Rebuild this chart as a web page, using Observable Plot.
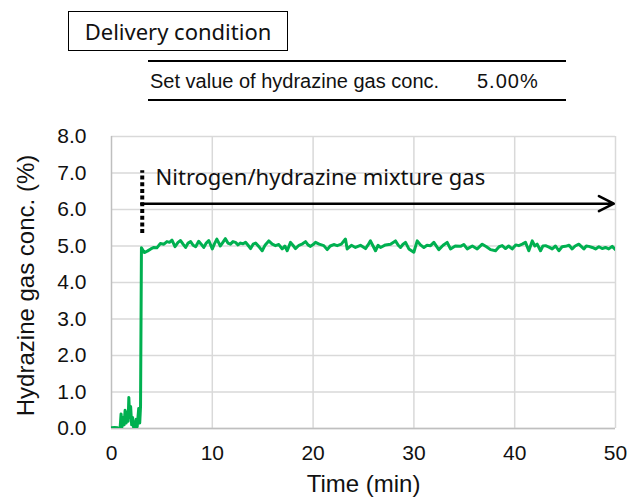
<!DOCTYPE html>
<html>
<head>
<meta charset="utf-8">
<script src="https://cdn.jsdelivr.net/npm/d3@7"></script>
<script src="https://cdn.jsdelivr.net/npm/@observablehq/plot@0.6"></script>
<style>
  html, body { margin: 0; padding: 0; background: #fff; }
  #wrap { position: relative; width: 630px; height: 502px; overflow: hidden; }
  #head { position: relative; width: 630px; height: 110px; }
  .box { position: absolute; left: 68px; top: 11px; width: 220px; height: 40px; box-sizing: border-box;
         border: 1.5px solid #000; display: flex; align-items: center; justify-content: center;
         font-family: "Noto Sans", sans-serif; font-size: 22px; line-height: 22px; color: #111; }
  .rule { position: absolute; left: 148px; width: 418px; height: 2px; background: #000; }
  .set { position: absolute; top: 71px; font-family: "Liberation Sans", Arial, sans-serif; font-size: 20px; line-height: 20px; color: #111; white-space: pre; }
</style>
</head>
<body>
<div id="wrap">
  <div id="head">
    <div class="box">Delivery condition</div>
    <div class="rule" style="top:60px"></div>
    <div class="set" style="left:150px">Set value of hydrazine gas conc.</div>
    <div class="set" style="left:477px; letter-spacing:1px">5.00%</div>
    <div class="rule" style="top:99px"></div>
  </div>
  <div id="chart"></div>
</div>
<script>
// ---- data ----
const timeMin = [
  0, 0.3, 0.6, 0.75, 0.85, 0.95, 1.05, 1.15, 1.25, 1.35, 1.45, 1.55, 1.65, 1.72, 1.8, 1.9, 2.0, 2.1, 2.2, 2.35, 2.45, 2.55, 2.7, 2.8, 2.88,
  2.97, 3.25, 3.55, 3.9, 4.2, 4.5, 4.85, 5.2, 5.5, 5.75, 6.0, 6.3, 6.6, 6.85, 7.1, 7.35, 7.6, 7.85, 8.1, 8.35, 8.65, 8.9, 9.15, 9.4, 9.65,
  10.0, 10.2, 10.45, 10.8, 11.05, 11.3, 11.55, 11.8, 12.05, 12.3, 12.55, 12.8, 13.05, 13.3, 13.55, 13.8, 14.05, 14.3, 14.6, 14.95,
  15.25, 15.6, 15.95, 16.27, 16.6, 16.93, 17.2, 17.43, 17.76, 18.0, 18.25, 18.6, 18.95, 19.25, 19.5, 19.74,
  20.0, 20.24, 20.6, 21.06, 21.4, 21.7, 22.05, 22.39, 22.8, 23.21, 23.38, 23.8, 24.2, 24.7,
  25.2, 25.45, 25.69, 25.95, 26.19, 26.45, 26.69, 27.18, 27.68, 28.17, 28.45, 28.67, 28.9, 29.17, 29.5,
  29.99, 30.33, 30.65, 30.99, 31.3, 31.65, 31.98, 32.47, 32.9, 33.3, 33.63, 34.1, 34.62, 34.95,
  35.29, 35.8, 36.28, 36.78, 37.2, 37.6, 38.1, 38.45, 38.76, 39.09, 39.4, 39.75,
  40.1, 40.41, 40.75, 41.07, 41.4, 41.74, 42.0, 42.23, 42.56, 42.8, 43.06, 43.4, 43.72, 44.05, 44.38, 44.7,
  45.04, 45.4, 45.7, 46.0, 46.36, 46.86, 47.1, 47.35, 47.7, 48.02, 48.35, 48.68, 49.0, 49.33, 49.67, 50.0
];
const concPct = [
  0.02, 0.03, 0.02, 0, 0, 0.4, 0.05, 0.3, 0.1, 0.5, 0.15, 0.45, 0.2, 0.85, 0.3, 0.6, 0.1, 0.3, 0.02, 0.05, 0.25, 0.05, 0.55, 0.15, 0.6,
  4.95, 4.82, 4.86, 4.92, 4.96, 4.95, 5.07, 5.05, 5.12, 5.10, 5.16, 4.98, 5.10, 5.15, 5.05, 4.96, 5.08, 5.12, 5.02, 4.98, 5.13, 5.05, 4.96, 5.08, 5.15,
  4.92, 5.05, 5.19, 5.00, 5.10, 5.20, 5.08, 5.05, 5.12, 5.10, 5.03, 5.08, 5.06, 5.10, 5.02, 4.93, 5.05, 5.08, 4.99, 4.87,
  5.03, 5.14, 5.05, 5.01, 5.04, 4.92, 5.00, 4.87, 5.10, 5.02, 4.93, 5.02, 5.06, 5.12, 5.03, 4.99,
  5.04, 5.10, 5.05, 5.01, 4.90, 5.00, 5.04, 5.01, 5.05, 5.19, 4.92, 5.02, 4.96, 5.02,
  4.93, 5.03, 5.14, 5.00, 4.87, 5.02, 4.96, 5.03, 5.05, 5.14, 5.02, 4.96, 5.04, 5.10, 4.92,
  4.83, 5.14, 5.03, 4.96, 5.02, 5.01, 5.10, 4.90, 5.02, 5.10, 4.92, 5.00, 4.99, 5.04,
  4.92, 5.00, 4.92, 5.05, 4.98, 4.90, 4.87, 4.98, 5.01, 4.93, 5.00, 4.92,
  5.03, 5.01, 5.05, 5.10, 4.87, 5.14, 5.00, 5.05, 4.87, 5.00, 5.01, 4.97, 4.92, 5.00, 4.87, 4.98,
  4.99, 5.02, 4.92, 5.00, 5.05, 4.92, 5.00, 4.99, 4.96, 4.92, 4.98, 4.93, 4.96, 4.92, 4.99, 4.90
];
const xTicks = [0, 10, 20, 30, 40, 50];
const yTicks = [0, 1, 2, 3, 4, 5, 6, 7, 8];
const xTitle = "Time (min)";
const yTitle = "Hydrazine gas conc. (%)";
const supplyLabel = ["Nitrogen/hydrazine mixture gas"];
// annotation in data units: supply start time, dotted marker span, arrow level/end, label position
const supplyStart = [3.05];
const markerSpan = [5.34, 7.06];
const arrowLevel = [6.16];
const arrowEnd = [49.83];
const labelPos = [4.37, 6.87];

const series = timeMin.map((t, i) => ({t, c: concPct[i]}));
const gridColor = "#d9d9d9";

const chart = Plot.plot({
  width: 630,
  height: 392,
  marginTop: 26,
  marginBottom: 74,
  marginLeft: 111,
  marginRight: 15,
  style: {fontFamily: "'Liberation Sans', Arial, sans-serif", fontSize: "21px", color: "#111", background: "#fff"},
  x: {domain: [0, 50], ticks: xTicks, label: null},
  y: {domain: [0, 8], ticks: yTicks, label: null},
  marks: [
    Plot.gridY(yTicks, {stroke: gridColor, strokeOpacity: 1, strokeWidth: 1.5}),
    Plot.gridX(xTicks.filter(d => d > 0), {stroke: gridColor, strokeOpacity: 1, strokeWidth: 1.5}),
    Plot.ruleX([0], {stroke: "#bfbfbf", strokeWidth: 1.5}),
    Plot.ruleY([0], {stroke: "#bfbfbf", strokeWidth: 1.5}),
    Plot.line(series, {x: "t", y: "c", stroke: "#00b050", strokeWidth: 3, strokeLinejoin: "round", clip: true}),
    Plot.axisY({ticks: yTicks, tickFormat: d => d.toFixed(1), tickSize: 0, tickPadding: 25, label: null, fontSize: 21}),
    Plot.axisX({ticks: xTicks, tickSize: 0, tickPadding: 17, label: null, fontSize: 21}),
    Plot.text([xTitle], {frameAnchor: "bottom", dy: 56, textAnchor: "middle", lineAnchor: "middle", fontSize: 24, fill: "#111"}),
    Plot.text([yTitle], {frameAnchor: "left", dx: -85, dy: 3, rotate: -90, textAnchor: "middle", lineAnchor: "middle", fontSize: 24, fill: "#111"}),
    Plot.ruleX(supplyStart, {y1: markerSpan[0], y2: markerSpan[1], stroke: "#000", strokeWidth: 4, strokeDasharray: "4,2.7"}),
    Plot.arrow(supplyStart, {x1: d => d - 0.1, x2: arrowEnd[0], y1: arrowLevel[0], y2: arrowLevel[0],
      stroke: "#000", strokeWidth: 2.5, headLength: 10, headAngle: 54}),
    Plot.text(supplyLabel, {x: labelPos[0], y: labelPos[1], textAnchor: "start", lineAnchor: "middle",
      fontFamily: "'Noto Sans', sans-serif", fontSize: 22, fill: "#111"})
  ]
});
document.getElementById("chart").appendChild(chart);
</script>
</body>
</html>
